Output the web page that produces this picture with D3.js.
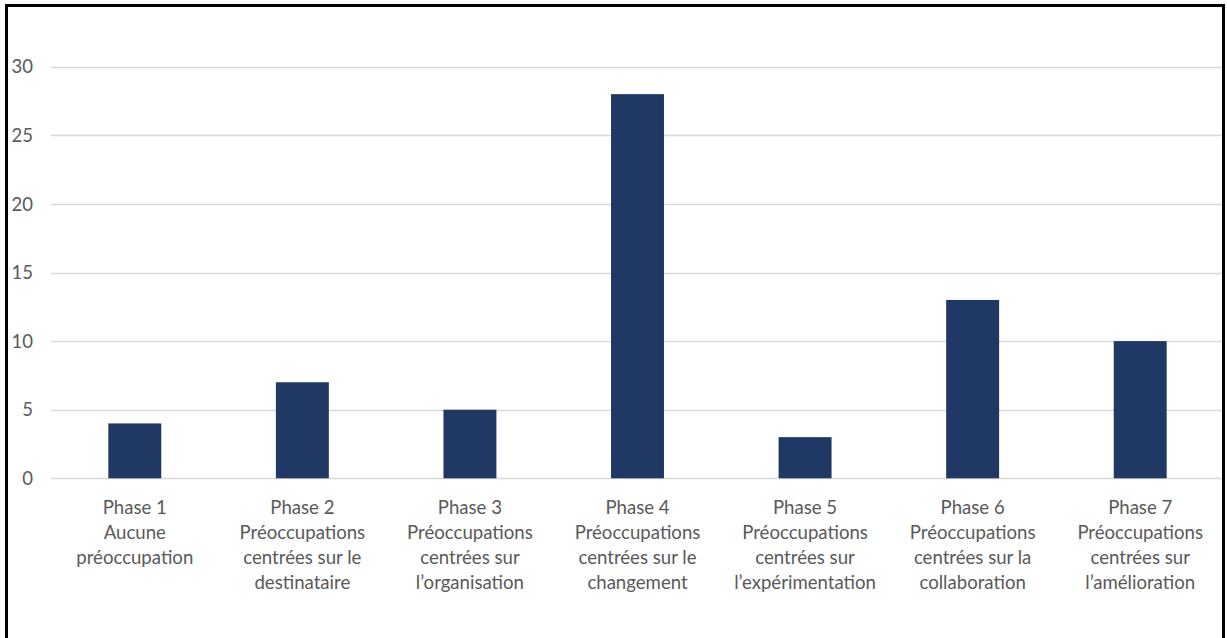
<!DOCTYPE html>
<html>
<head>
<meta charset="utf-8">
<script src="https://cdn.jsdelivr.net/npm/d3@7"></script>
<style>
  html, body { margin: 0; padding: 0; background: #fff; }
  svg { display: block; }
</style>
</head>
<body>
<svg id="chart" width="1227" height="638"></svg>
<script>
// Concerns-based adoption phases: number of respondents per phase
const phases = ["Phase 1", "Phase 2", "Phase 3", "Phase 4", "Phase 5", "Phase 6", "Phase 7"];
const phaseLabels = [
  ["Phase 1", "Aucune", "préoccupation"],
  ["Phase 2", "Préoccupations", "centrées sur le", "destinataire"],
  ["Phase 3", "Préoccupations", "centrées sur", "l’organisation"],
  ["Phase 4", "Préoccupations", "centrées sur le", "changement"],
  ["Phase 5", "Préoccupations", "centrées sur", "l’expérimentation"],
  ["Phase 6", "Préoccupations", "centrées sur la", "collaboration"],
  ["Phase 7", "Préoccupations", "centrées sur", "l’amélioration"]
];
const counts = [4, 7, 5, 28, 3, 13, 10];
const yTicks = [0, 5, 10, 15, 20, 25, 30];

const svg = d3.select("#chart");
const font = "Lato, 'Open Sans', sans-serif";
const textColor = "#595959";

const plot = { left: 51, right: 1224, top: 66.7, bottom: 478.3 };

const x = d3.scaleBand()
  .domain(phases)
  .range([plot.left, plot.right])
  .paddingInner(0.684)
  .paddingOuter(0.342);

const y = d3.scaleLinear()
  .domain([0, 30])
  .range([plot.bottom, plot.top]);

// horizontal gridlines
svg.append("g")
  .selectAll("line")
  .data(yTicks)
  .join("line")
  .attr("x1", plot.left)
  .attr("x2", plot.right)
  .attr("y1", d => Math.round(y(d)) + 0.5)
  .attr("y2", d => Math.round(y(d)) + 0.5)
  .attr("stroke", "#d9d9d9")
  .attr("stroke-width", 1.3);

// y tick labels
svg.append("g")
  .selectAll("text")
  .data(yTicks)
  .join("text")
  .attr("x", 33)
  .attr("y", d => y(d))
  .attr("dy", "0.36em")
  .attr("text-anchor", "end")
  .attr("font-family", font)
  .attr("font-size", 18.5)
  .attr("fill", textColor)
  .text(d => d);

// bars
svg.append("g")
  .selectAll("rect")
  .data(counts)
  .join("rect")
  .attr("x", (d, i) => x(phases[i]))
  .attr("width", x.bandwidth())
  .attr("y", d => y(d))
  .attr("height", d => y(0) - y(d))
  .attr("fill", "#203864");

// category labels (multi-line)
const labels = svg.append("g")
  .selectAll("text")
  .data(phaseLabels)
  .join("text")
  .attr("text-anchor", "middle")
  .attr("font-family", font)
  .attr("font-size", 18.6)
  .attr("fill", textColor);

labels.selectAll("tspan")
  .data((lines, i) => lines.map(l => ({ l, i })))
  .join("tspan")
  .attr("x", d => x(phases[d.i]) + x.bandwidth() / 2)
  .attr("y", (d, j) => 514 + j * 25)
  .text(d => d.l);

// outer frame
svg.append("rect")
  .attr("x", 6.5)
  .attr("y", 5.5)
  .attr("width", 1217)
  .attr("height", 700)
  .attr("fill", "none")
  .attr("stroke", "#000")
  .attr("stroke-width", 3);
</script>
</body>
</html>
